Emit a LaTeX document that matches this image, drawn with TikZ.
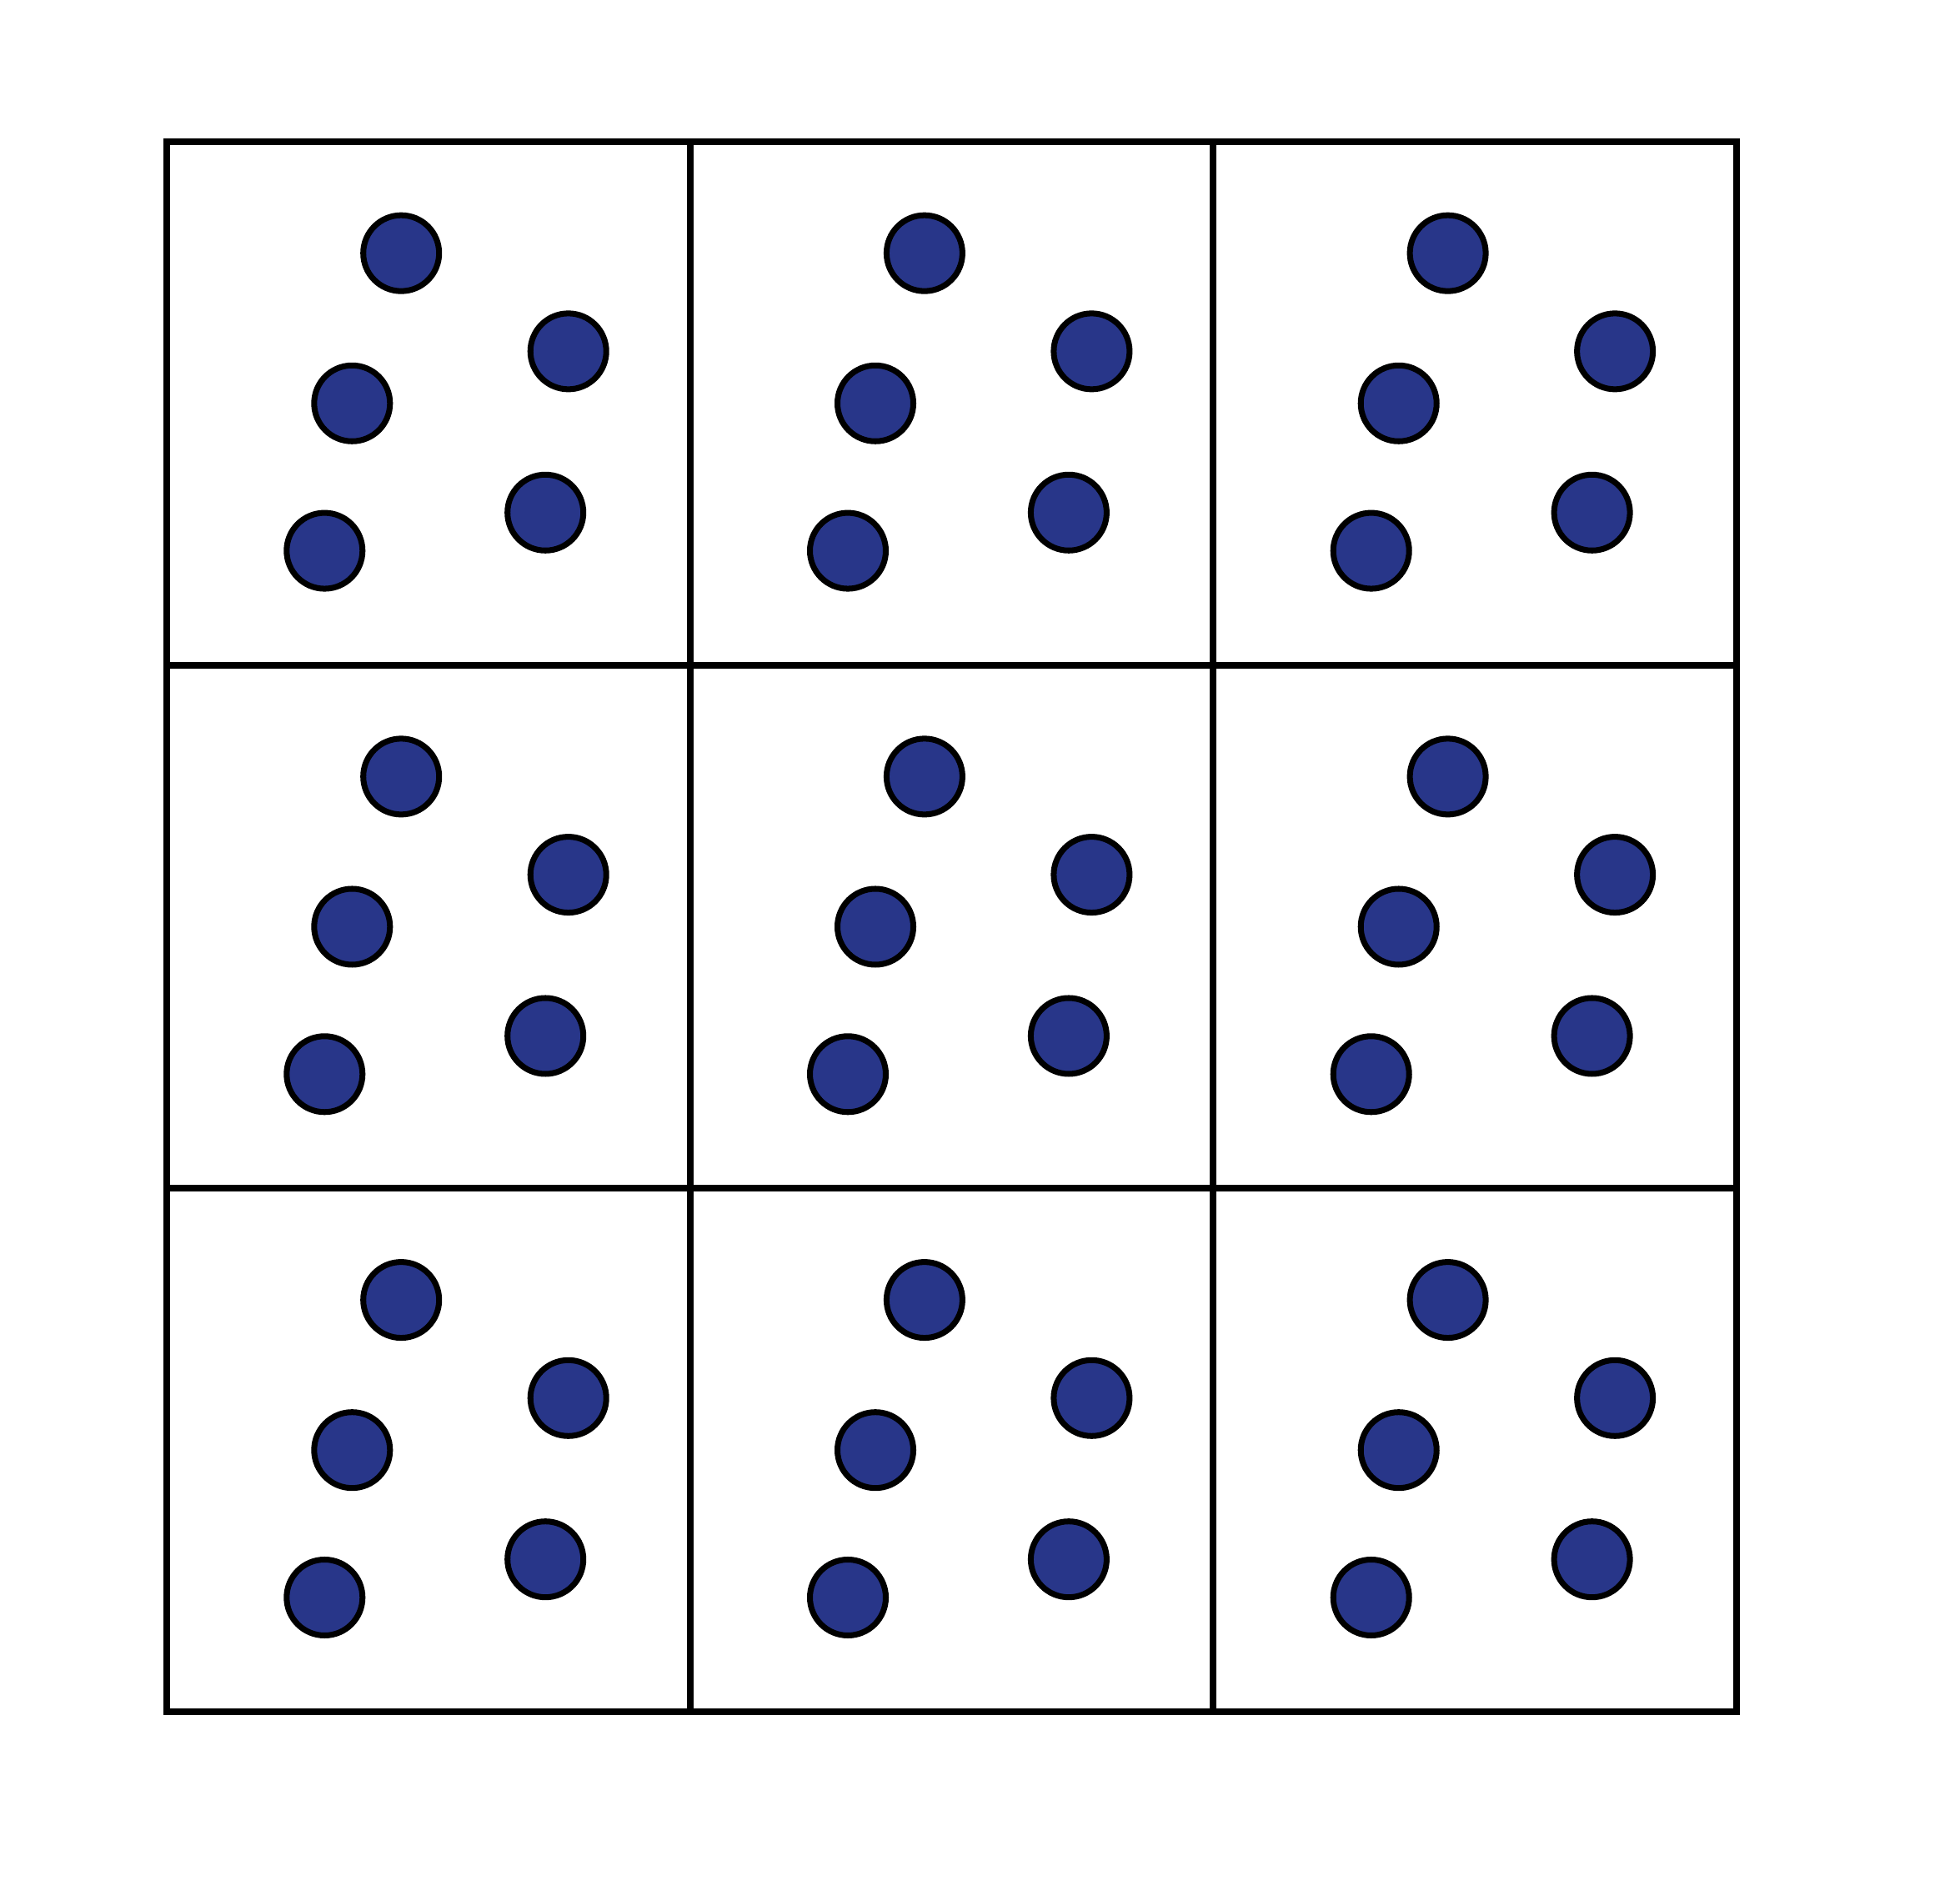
\documentclass[tikz,border=0pt]{standalone}
\usepackage{xcolor}
\usepackage{tikz}
\usetikzlibrary{positioning}

\definecolor{dotblue}{RGB}{40,54,137}

\begin{document}
\begin{tikzpicture}[
			cell/.style={rectangle, draw=black, line width=2.3pt, minimum size=6.277cm, inner sep=0pt, outer sep=0pt, anchor=north west},
			counter/.style={circle, draw=black, fill=dotblue, line width=2pt, minimum size=0.91cm, inner sep=0pt}
			]
			\useasboundingbox (0,0) rectangle (23.51,22.55);
			
			% Cuadricula 3x3
			\foreach \r in {0,1,2}
			\foreach \c in {0,1,2}{
				\node (cell\r\c) [cell] at ({2.00+6.277*\c},{20.85-6.277*\r}) {};
				% Fichas de cada celda
				\foreach \dx/\dy [count=\k] in {2.812/-1.337, 4.817/-2.514, 2.223/-3.138, 4.542/-4.448, 1.893/-4.906}
				\node (dot\r\c\k) [counter] at ([shift={(\dx,\dy)}]cell\r\c.north west) {};
			}
			
		\end{tikzpicture}
\end{document}
